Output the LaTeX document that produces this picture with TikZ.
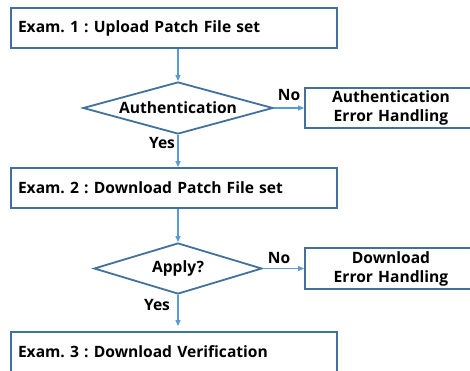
\documentclass[tikz,border=0pt]{standalone}
\usepackage{fontspec}
\setmainfont{Open Sans}
\frenchspacing
\usetikzlibrary{shapes.geometric,arrows.meta}
\definecolor{boxline}{HTML}{41719C}
\definecolor{flowline}{HTML}{5B9BD5}
\tikzset{
  txt/.style={font=\fontsize{15.6}{17}\selectfont\bfseries, text=black},
  stepbox/.style={draw=boxline, line width=1.8pt, fill=white, rectangle, txt,
    minimum height=40pt, inner sep=0pt},
  wide/.style={stepbox, minimum width=326pt, text width=312pt, align=left},
  errbox/.style={stepbox, minimum width=172pt, text width=166pt, align=center,
    font=\fontsize{15.6}{19}\selectfont\bfseries},
  decide/.style={draw=boxline, line width=1.8pt, fill=white, diamond, txt,
    inner sep=0pt, aspect=3.5},
  flow/.style={draw=flowline, line width=1.3pt, -{Triangle[length=6pt,width=5pt]}},
  lbl/.style={txt}
}
\begin{document}
\begin{tikzpicture}[x=1pt,y=-1pt]
\useasboundingbox (0,0) rectangle (470,370);
\clip (0,0) rectangle (470,370);
\node[wide] (b1) at (174,28) {Exam. 1 : Upload Patch File set};
\node[decide, minimum width=190pt, minimum height=52pt] (d1) at (178,108) {Authentication};
\node[errbox] (e1) at (391,108) {Authentication\\Error Handling};
\node[wide] (b2) at (174,188) {Exam. 2 : Download Patch File set};
\node[decide, minimum width=168pt, minimum height=51pt] (d2) at (178,268.5) {Apply?};
\node[errbox, minimum height=41pt] (e2) at (391,268.5) {Download\\Error Handling};
\node[wide] (b3) at (174,352) {Exam. 3 : Download Verification};

\draw[flow] (b1.south -| d1.north) -- (d1.north);
\draw[flow] (d1.east) -- (e1.west);
\draw[flow] (d1.south) -- (d1.south |- b2.north);
\draw[flow] (b2.south -| d2.north) -- (d2.north);
\draw[flow] (d2.east) -- (e2.west);
\draw[flow, shorten >=5pt] (d2.south) -- (d2.south |- b3.north);

\node[lbl] (n1) at (289,95) {No};
\node[lbl] (y1) at (162,143) {Yes};
\node[lbl] (n2) at (279,258) {No};
\node[lbl] (y2) at (157,305) {Yes};
\end{tikzpicture}
\end{document}
